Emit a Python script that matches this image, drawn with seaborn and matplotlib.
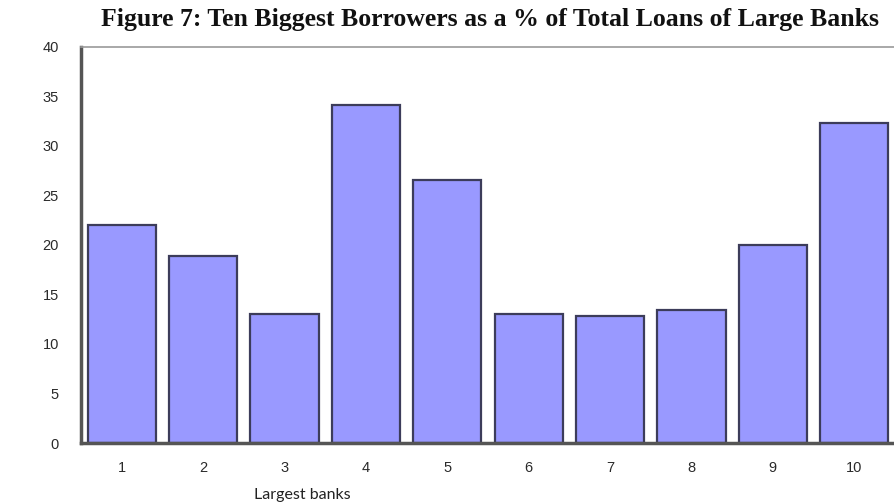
import numpy as np
import pandas as pd
import matplotlib
matplotlib.use("Agg")
import matplotlib.pyplot as plt
import seaborn as sns
from matplotlib.ticker import FixedLocator

# datos
banks = ["1", "2", "3", "4", "5", "6", "7", "8", "9", "10"]
share = [22.0, 18.9, 13.0, 34.1, 26.6, 13.0, 12.8, 13.4, 20.0, 32.3]
y_ticks = [0, 5, 10, 15, 20, 25, 30, 35, 40]

df = pd.DataFrame({"bank": banks, "share": share})

sns.set_style("white")
plt.rcParams["font.family"] = ["Liberation Sans", "DejaVu Sans"]

fig = plt.figure(figsize=(8.95, 5.04), dpi=100)
ax = fig.add_axes([0.0905, 0.121, 0.9095, 0.786])

sns.barplot(data=df, x="bank", y="share", color="#9999ff", saturation=1,
            width=0.84, edgecolor="#3c3c5a", linewidth=1.6, ax=ax)

ax.set_ylim(0, 40)
ax.set_xlim(-0.5, 9.5)
ax.set_yticks(y_ticks)
ax.set_yticklabels([str(t) for t in y_ticks], fontsize=10.5, color="#2a2a2a")
ax.tick_params(axis="y", direction="in", length=5, width=1, color="#555555", pad=16)
ax.tick_params(axis="x", which="major", length=0, pad=13, labelsize=10.5, labelcolor="#2a2a2a")
ax.xaxis.set_minor_locator(FixedLocator(np.arange(0.5, 9.5, 1.0)))
ax.tick_params(axis="x", which="minor", direction="in", length=4, width=1, color="#555555")

for side in ["left", "bottom"]:
    ax.spines[side].set_color("#555555")
    ax.spines[side].set_linewidth(2.5)
for side in ["top", "right"]:
    ax.spines[side].set_color("#999999")
    ax.spines[side].set_linewidth(1.2)

ax.set_ylabel("")
ax.set_xlabel("Largest banks", fontsize=11.5, color="#222222", family=["Lato", "DejaVu Sans"])
ax.xaxis.label.set_va("center")
ax.xaxis.set_label_coords(0.272, -0.131)

fig.text(0.548, 0.985, "Figure 7: Ten Biggest Borrowers as a % of Total Loans of Large Banks",
         ha="center", va="top", fontsize=18.5, fontweight="bold",
         family=["Liberation Serif", "DejaVu Serif"], color="#111111")

fig.savefig("out.png", dpi=100)
plt.close()
